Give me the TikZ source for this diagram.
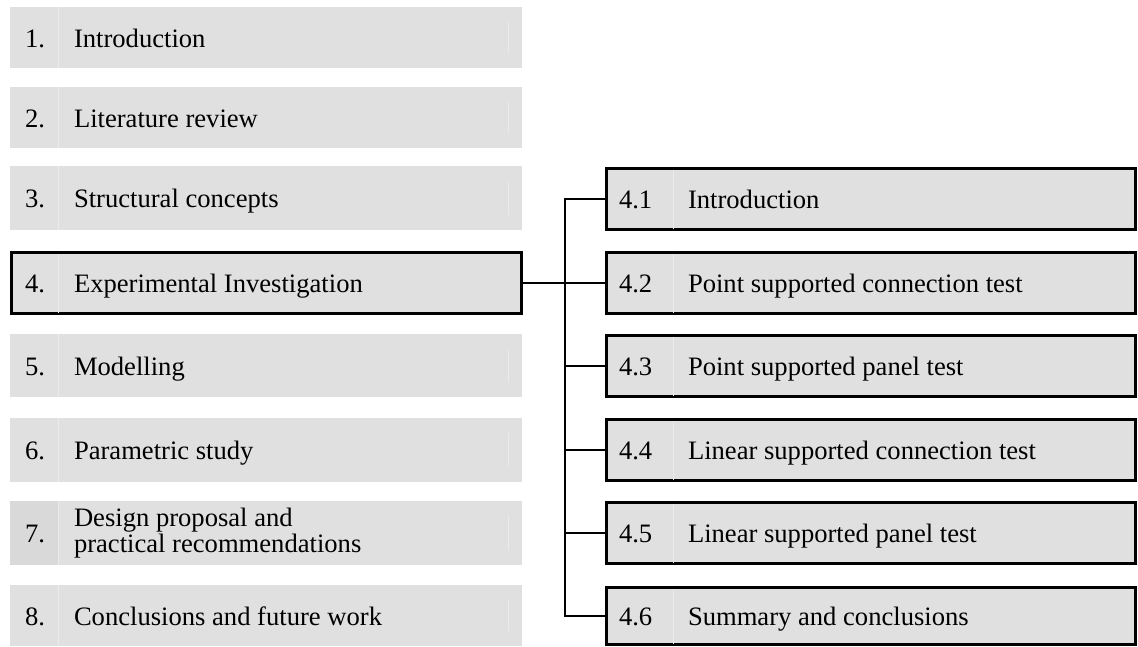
\documentclass[tikz,border=0pt]{standalone}
\usepackage{fontspec}
\setmainfont{Liberation Serif}
\definecolor{cellgray}{HTML}{E0E0E0}
\definecolor{cellline}{HTML}{EBEBEB}
\definecolor{numgray}{HTML}{D9D9D9}
\begin{document}
\begin{tikzpicture}[x=1pt,y=-1pt,
  cell/.style={fill=cellgray, draw=none, inner sep=0pt, outer sep=0pt, anchor=north west},
  framed/.style={draw=black, line width=2.6pt},
  lbl/.style={anchor=base west, inner sep=0pt, outer sep=0pt, font=\fontsize{26.6}{28}\selectfont},
  sep/.style={draw=cellline, line width=0.9pt},
  wire/.style={line width=2.6pt, line join=miter}]
\useasboundingbox (0,0) rectangle (1138,646);

% left column (all but 4 and 7)
\foreach \i/\t/\h/\txt in {1/7/61/Introduction, 2/87/61/Literature review, 3/166/64/Structural concepts, 5/334/63/Modelling, 6/418/64/Parametric study, 8/585/61/Conclusions and future work}{
  \node[cell, minimum width=512pt, minimum height=\h pt] (b\i) at (10,\t) {};
  \draw[sep] (58,\t) -- (58,\t+\h);
  \draw[sep] (508,\t+15) -- (508,\t+\h-15);
  \node[lbl] (n\i) at (25,\t+\h/2+9.5) {\i.};
  \node[lbl] (l\i) at (74,\t+\h/2+9.5) {\txt};
}

% box 4 (framed)
\node[cell, framed, minimum width=510.4pt, minimum height=61.4pt] (b4) at (11.3,252.3) {};
\draw[sep] (58,254) -- (58,313);
\node[lbl] (n4) at (25,292.5) {4.};
\node[lbl] (l4) at (74,292.5) {Experimental Investigation};

% box 7 (two lines)
\node[cell, minimum width=512pt, minimum height=64pt] (b7) at (10,501) {};
\fill[numgray] (10,501) rectangle (58,565);
\draw[sep] (58,501) -- (58,565);
\draw[sep] (508,516) -- (508,550);
\node[lbl] (n7) at (25,542.5) {7.};
\node[lbl] (l7a) at (74,526) {Design proposal and};
\node[lbl] (l7b) at (74,552) {practical recommendations};

% right column
\foreach \i/\t/\h/\txt in {1/167/64/Introduction, 2/251/64/Point supported connection test, 3/334/64/Point supported panel test, 4/418/64/Linear supported connection test, 5/501/64/Linear supported panel test, 6/586/60/Summary and conclusions}{
  \node[cell, framed, minimum width=529.4pt, minimum height=\h pt-2.6pt] (r\i) at (606.3,\t+1.3) {};
  \draw[sep] (673,\t+2.5) -- (673,\t+\h-2.5);
  \node[lbl] (rn\i) at (619,\t+\h/2+9.5) {4.\i};
  \node[lbl] (rl\i) at (688,\t+\h/2+9.5) {\txt};
}

% connectors
\coordinate (busx) at (565,0);
\draw[wire] (b4.east) -- (r2.west);
\draw[wire] (r1.west) -| (r6.west -| busx) -- (r6.west);
\foreach \i in {3,4,5}{
  \draw[wire] (r\i.west -| busx) -- (r\i.west);
}
\end{tikzpicture}
\end{document}
